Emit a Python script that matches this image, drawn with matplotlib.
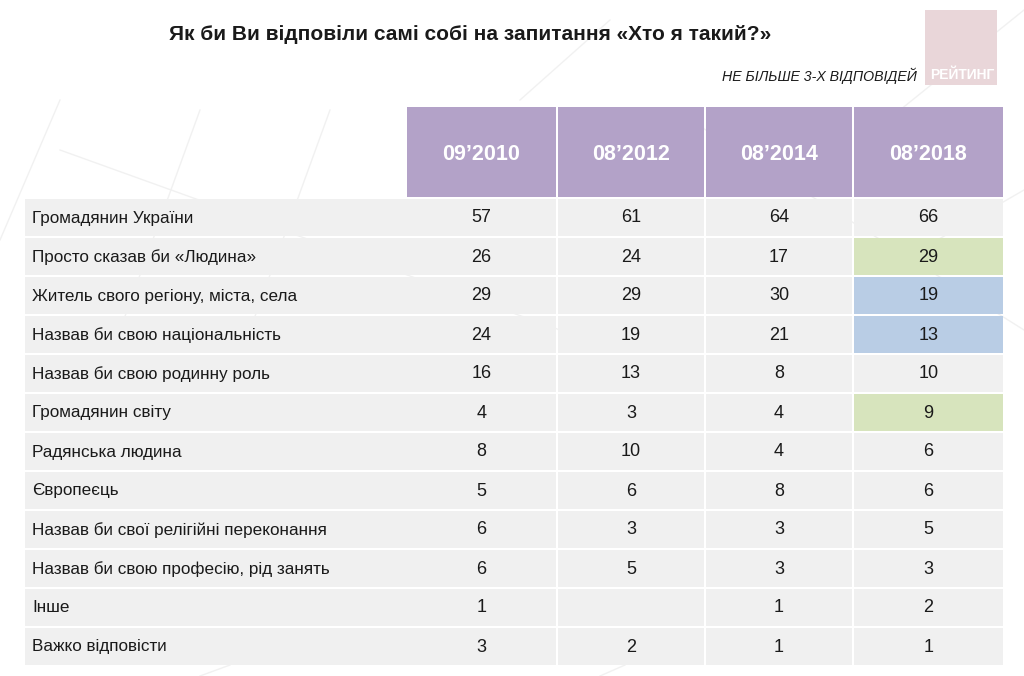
import matplotlib
matplotlib.use("Agg")
import matplotlib.pyplot as plt
from matplotlib.patches import Rectangle

title = "Як би Ви відповіли самі собі на запитання «Хто я такий?»"
subtitle = "НЕ БІЛЬШЕ 3-Х ВІДПОВІДЕЙ"
logo_text = "РЕЙТИНГ"

periods = ["09’2010", "08’2012", "08’2014", "08’2018"]
categories = [
    "Громадянин України",
    "Просто сказав би «Людина»",
    "Житель свого регіону, міста, села",
    "Назвав би свою національність",
    "Назвав би свою родинну роль",
    "Громадянин світу",
    "Радянська людина",
    "Європеєць",
    "Назвав би свої релігійні переконання",
    "Назвав би свою професію, рід занять",
    "Інше",
    "Важко відповісти",
]
v2010 = [57, 26, 29, 24, 16, 4, 8, 5, 6, 6, 1, 3]
v2012 = [61, 24, 29, 19, 13, 3, 10, 6, 3, 5, None, 2]
v2014 = [64, 17, 30, 21, 8, 4, 4, 8, 3, 3, 1, 1]
v2018 = [66, 29, 19, 13, 10, 9, 6, 6, 5, 3, 2, 1]
# highlight of 2018 column: "up" (green), "down" (blue), None
h2018 = [None, "up", "down", "down", None, "up", None, None, None, None, None, None]

series = [v2010, v2012, v2014, v2018]

FONT = ["Liberation Sans Narrow", "Liberation Sans", "DejaVu Sans"]
plt.rcParams["font.family"] = FONT

C_HEAD = "#B3A2C8"
C_CELL = "#F0F0F0"
C_UP = "#D7E4BD"
C_DOWN = "#B9CDE5"
C_TEXT = "#1a1a1a"

fig = plt.figure(figsize=(10.24, 6.76), dpi=100)
ax = fig.add_axes([0, 0, 1, 1])
ax.set_xlim(0, 1024)
ax.set_ylim(676, 0)
ax.axis("off")

# faint background decoration lines
bg_lines = [((0, 240), (60, 100)), ((120, 330), (200, 110)), ((250, 330), (330, 110)),
            ((60, 150), (560, 330)), ((690, 120), (1024, 330)), ((520, 100), (610, 20)),
            ((900, 110), (1024, 10)), ((920, 250), (1024, 190)), ((200, 676), (230, 665)),
            ((600, 676), (625, 665))]
for (x0, y0), (x1, y1) in bg_lines:
    ax.plot([x0, x1], [y0, y1], color="#F1F1F1", lw=1.0, zorder=0)

# title & subtitle
ax.text(470, 35, title, ha="center", va="center", fontsize=15, fontweight="bold",
        color=C_TEXT, family=["Liberation Sans", "DejaVu Sans"])
ax.text(917, 76, subtitle, ha="right", va="center", fontsize=10.2, style="italic",
        color=C_TEXT)

# logo
ax.add_patch(Rectangle((925, 10), 72, 75, facecolor="#E9D6D9", edgecolor="none", zorder=1))
ax.text(962, 75, logo_text, ha="center", va="center", fontsize=10, fontweight="bold",
        color="white", zorder=2)

# table geometry
left = 25
label_w = 382
col_x = [407, 558, 706, 854]
col_w = [149, 146, 146, 149]
head_top, head_bot = 107, 197
row_top = 199
row_h = 39.0
gap = 2

# header
for j, p in enumerate(periods):
    ax.add_patch(Rectangle((col_x[j], head_top), col_w[j], head_bot - head_top,
                           facecolor=C_HEAD, edgecolor="none", zorder=1))
    ax.text(col_x[j] + col_w[j] / 2, (head_top + head_bot) / 2 + 2, p, ha="center",
            va="center", fontsize=15.5, fontweight="bold", color="white", zorder=2)

# rows
for i, cat in enumerate(categories):
    y0 = row_top + i * row_h
    h = row_h - gap
    ax.add_patch(Rectangle((left, y0), label_w - gap + 2, h, facecolor=C_CELL,
                           edgecolor="none", zorder=1))
    ax.text(left + 7, y0 + h / 2 + 0.5, cat, ha="left", va="center", fontsize=12.3,
            color=C_TEXT, zorder=2)
    for j, s in enumerate(series):
        fc = C_CELL
        if j == 3 and h2018[i] == "up":
            fc = C_UP
        elif j == 3 and h2018[i] == "down":
            fc = C_DOWN
        ax.add_patch(Rectangle((col_x[j], y0), col_w[j], h, facecolor=fc,
                               edgecolor="none", zorder=1))
        val = s[i]
        if val is not None:
            ax.text(col_x[j] + col_w[j] / 2, y0 + h / 2 + 0.5, str(val), ha="center",
                    va="center", fontsize=13, color=C_TEXT, zorder=2)

fig.savefig("out.png", dpi=100)
